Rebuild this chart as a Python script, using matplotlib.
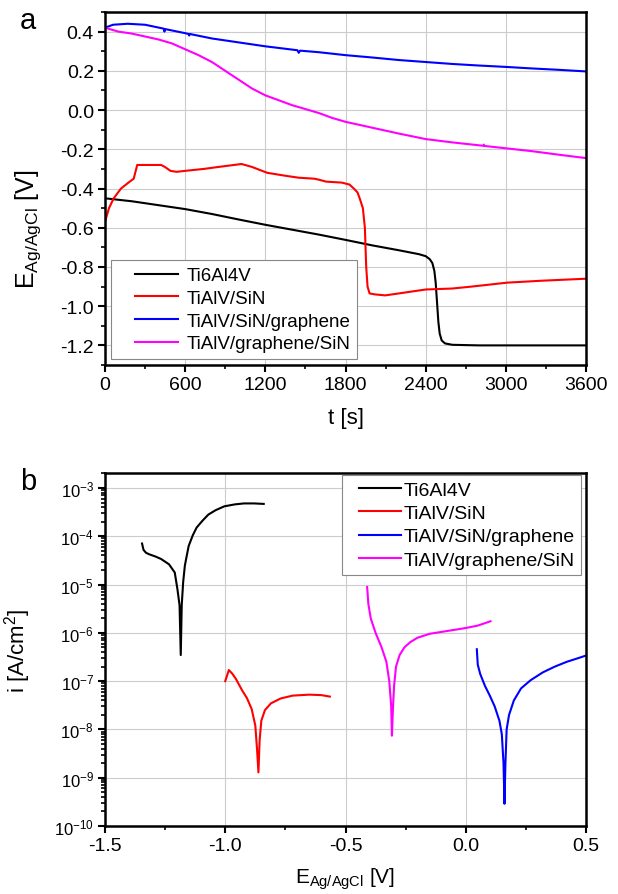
import numpy as np
import matplotlib
matplotlib.use("Agg")
import matplotlib.pyplot as plt
from matplotlib.ticker import MultipleLocator, LogLocator, NullFormatter, FuncFormatter
from matplotlib.legend_handler import HandlerLine2D

plt.rcParams['font.family'] = ['Liberation Sans', 'DejaVu Sans']
plt.rcParams['mathtext.fontset'] = 'custom'
plt.rcParams['mathtext.rm'] = 'Liberation Sans'
plt.rcParams['mathtext.it'] = 'Liberation Sans'

labels = ["Ti6Al4V", "TiAlV/SiN", "TiAlV/SiN/graphene", "TiAlV/graphene/SiN"]
colors = ["black", "#ff0000", "#0000ff", "#ff00ff"]

# ---- panel a: open circuit potential vs time ----
t_ti = [0, 200, 400, 600, 800, 1000, 1200, 1400, 1600, 1800, 2000, 2200, 2350, 2400, 2430, 2450, 2465, 2475, 2485, 2495, 2505, 2520, 2545, 2600, 2800, 3600]
e_ti = [-0.45, -0.465, -0.485, -0.505, -0.53, -0.558, -0.585, -0.61, -0.635, -0.662, -0.69, -0.715, -0.735, -0.745, -0.76, -0.78, -0.82, -0.88, -0.98, -1.08, -1.14, -1.175, -1.19, -1.197, -1.2, -1.2]

t_sin = [0, 30, 65, 120, 183, 215, 241, 300, 420, 448, 490, 536, 600, 742, 850, 1022, 1100, 1214, 1350, 1450, 1567, 1600, 1656, 1773, 1830, 1862, 1890, 1906, 1930, 1945, 1955, 1965, 1980, 2020, 2097, 2200, 2400, 2600, 2746, 3011, 3276, 3600]
e_sin = [-0.57, -0.50, -0.45, -0.40, -0.366, -0.35, -0.28, -0.28, -0.28, -0.29, -0.31, -0.315, -0.31, -0.30, -0.29, -0.275, -0.29, -0.32, -0.335, -0.345, -0.35, -0.355, -0.365, -0.37, -0.38, -0.40, -0.42, -0.45, -0.50, -0.60, -0.80, -0.90, -0.935, -0.94, -0.945, -0.935, -0.915, -0.91, -0.90, -0.88, -0.87, -0.86]

t_sing = [0, 60, 170, 300, 440, 445, 450, 600, 625, 630, 635, 800, 1000, 1200, 1440, 1450, 1460, 1600, 1800, 2000, 2200, 2400, 2600, 2800, 3000, 3200, 3400, 3600]
e_sing = [0.42, 0.435, 0.44, 0.435, 0.415, 0.40, 0.413, 0.392, 0.388, 0.38, 0.388, 0.365, 0.345, 0.325, 0.305, 0.292, 0.303, 0.295, 0.28, 0.268, 0.255, 0.245, 0.235, 0.227, 0.22, 0.212, 0.205, 0.197]

t_gsin = [0, 100, 200, 300, 400, 500, 600, 700, 800, 900, 1000, 1100, 1200, 1300, 1400, 1500, 1600, 1700, 1800, 1900, 2000, 2100, 2200, 2400, 2600, 2830, 2835, 2840, 3000, 3200, 3400, 3600]
e_gsin = [0.42, 0.40, 0.39, 0.375, 0.36, 0.34, 0.31, 0.28, 0.245, 0.20, 0.155, 0.11, 0.075, 0.05, 0.025, 0.005, -0.015, -0.04, -0.06, -0.075, -0.09, -0.105, -0.12, -0.148, -0.165, -0.182, -0.176, -0.183, -0.195, -0.21, -0.228, -0.245]

# ---- panel b: polarization curves (log10 of current density) ----
E_ti = [-1.346, -1.340, -1.330, -1.318, -1.29, -1.267, -1.234, -1.21, -1.199, -1.19, -1.185, -1.181, -1.175, -1.168, -1.16, -1.152, -1.135, -1.119, -1.095, -1.07, -1.04, -1.004, -0.96, -0.922, -0.88, -0.84]
lg_ti = [-4.15, -4.28, -4.34, -4.37, -4.42, -4.47, -4.58, -4.75, -5.09, -5.43, -6.46, -5.43, -4.95, -4.61, -4.40, -4.20, -3.98, -3.82, -3.68, -3.55, -3.46, -3.38, -3.34, -3.32, -3.32, -3.33]

E_sin = [-1.0, -0.985, -0.97, -0.955, -0.93, -0.91, -0.89, -0.875, -0.868, -0.862, -0.857, -0.85, -0.835, -0.81, -0.77, -0.72, -0.65, -0.60, -0.565]
lg_sin = [-7.0, -6.77, -6.85, -6.96, -7.19, -7.35, -7.58, -7.92, -8.40, -8.89, -8.22, -7.82, -7.60, -7.46, -7.36, -7.30, -7.28, -7.29, -7.32]

E_sing = [0.046, 0.05, 0.06, 0.08, 0.10, 0.12, 0.14, 0.15, 0.157, 0.161, 0.165, 0.17, 0.18, 0.20, 0.23, 0.27, 0.32, 0.37, 0.42, 0.47, 0.50]
lg_sing = [-6.34, -6.66, -6.85, -7.10, -7.30, -7.52, -7.82, -8.10, -8.70, -9.54, -8.70, -8.00, -7.70, -7.40, -7.15, -6.98, -6.82, -6.70, -6.60, -6.52, -6.47]

E_gsin = [-0.41, -0.405, -0.395, -0.375, -0.35, -0.33, -0.318, -0.31, -0.307, -0.303, -0.298, -0.29, -0.275, -0.255, -0.23, -0.20, -0.15, -0.10, -0.05, 0.0, 0.05, 0.103]
lg_gsin = [-5.05, -5.40, -5.70, -6.00, -6.30, -6.60, -7.00, -7.52, -8.13, -7.60, -7.10, -6.70, -6.46, -6.30, -6.19, -6.10, -6.02, -5.98, -5.94, -5.90, -5.85, -5.76]


class OffsetLine(HandlerLine2D):
    """Legend line drawn only in the right part of the handle box."""
    def __init__(self, frac, **kw):
        super().__init__(**kw)
        self.frac = frac

    def create_artists(self, legend, orig_handle, xdescent, ydescent, width, height, fontsize, trans):
        arts = super().create_artists(legend, orig_handle, xdescent, ydescent, width, height, fontsize, trans)
        y = np.asarray(arts[0].get_ydata(), dtype=float)[0]
        arts[0].set_data([-xdescent + width * self.frac, -xdescent + width], [y, y])
        return arts


W, H = 618, 895
fig = plt.figure(figsize=(W / 100, H / 100), dpi=100)

ax1 = fig.add_axes([105 / W, 1 - 366 / H, 481 / W, 353 / H])
ax2 = fig.add_axes([105 / W, 1 - 827 / H, 481 / W, 353 / H])

lines1 = []
for t, e, c, l in zip([t_ti, t_sin, t_sing, t_gsin], [e_ti, e_sin, e_sing, e_gsin], colors, labels):
    ln, = ax1.plot(t, e, color=c, lw=1.5, label=l)
    lines1.append(ln)

ax1.set_xlim(0, 3600)
ax1.set_ylim(-1.3, 0.5)
ax1.xaxis.set_major_locator(MultipleLocator(600))
ax1.xaxis.set_minor_locator(MultipleLocator(300))
ax1.yaxis.set_major_locator(MultipleLocator(0.2))
ax1.yaxis.set_minor_locator(MultipleLocator(0.1))
ax1.yaxis.set_major_formatter(FuncFormatter(lambda v, p: f"{v:.1f}"))
ax1.set_xlabel("t [s]", fontsize=16)
ax1.xaxis.set_label_coords(0.5, -0.118)
ax1.set_ylabel(r"E$_{\mathregular{Ag/AgCl}}$ [V]", fontsize=18)
ax1.yaxis.set_label_coords(-0.128, 0.388)
leg1 = ax1.legend(handler_map={l: OffsetLine(0.29) for l in lines1},
                  loc="lower left", bbox_to_anchor=(0.0125, 0.017), borderaxespad=0,
                  fontsize=13.5, fancybox=False, edgecolor="#888888", framealpha=1,
                  handlelength=3.23, labelspacing=0.3, handletextpad=0.43, borderpad=0.35)
leg1.get_frame().set_linewidth(0.8)

lines2 = []
for E, lg, c, l in zip([E_ti, E_sin, E_sing, E_gsin], [lg_ti, lg_sin, lg_sing, lg_gsin], colors, labels):
    ln, = ax2.plot(E, 10 ** np.array(lg), color=c, lw=1.5, label=l)
    lines2.append(ln)

ax2.set_yscale("log")
ax2.set_xlim(-1.5, 0.5)
ax2.set_ylim(1e-10, 10 ** -2.69)
ax2.xaxis.set_major_locator(MultipleLocator(0.5))
ax2.xaxis.set_minor_locator(MultipleLocator(0.25))
ax2.xaxis.set_major_formatter(FuncFormatter(lambda v, p: f"{v:.1f}"))
ax2.yaxis.set_major_locator(LogLocator(base=10, numticks=20))
ax2.yaxis.set_minor_locator(LogLocator(base=10, subs=np.arange(2, 10), numticks=20))
ax2.yaxis.set_minor_formatter(NullFormatter())
ax2.set_xlabel(r"E$_{\mathregular{Ag/AgCl}}$ [V]", fontsize=15)
ax2.xaxis.set_label_coords(0.5, -0.112)
ax2.set_ylabel(r"i [A/cm$^{\mathregular{2}}$]", fontsize=16)
ax2.yaxis.set_label_coords(-0.15, 0.5)
leg2 = ax2.legend(handler_map={l: OffsetLine(0.21) for l in lines2},
                  loc="upper right", bbox_to_anchor=(0.9896, 0.994), borderaxespad=0,
                  fontsize=14, fancybox=False, edgecolor="#888888", framealpha=1,
                  handlelength=2.74, labelspacing=0.3, handletextpad=0.15, borderpad=0.3)
leg2.get_frame().set_linewidth(0.8)

for ax in (ax1, ax2):
    ax.grid(True, which="major", color="#cccccc", lw=0.8)
    ax.set_axisbelow(True)
    for s in ax.spines.values():
        s.set_linewidth(1.8)
    ax.tick_params(which="major", direction="out", length=5, width=1.5, labelsize=14, pad=3, top=False, right=False)
    ax.tick_params(which="minor", direction="out", length=3, width=1.2, top=False, right=False)
ax2.tick_params(axis="y", which="major", labelsize=12)

fig.text(20 / W, 1 - 29 / H, "a", fontsize=21, va="baseline", ha="left")
fig.text(20 / W, 1 - 490 / H, "b", fontsize=21, va="baseline", ha="left")

fig.savefig("out.png", dpi=100)
